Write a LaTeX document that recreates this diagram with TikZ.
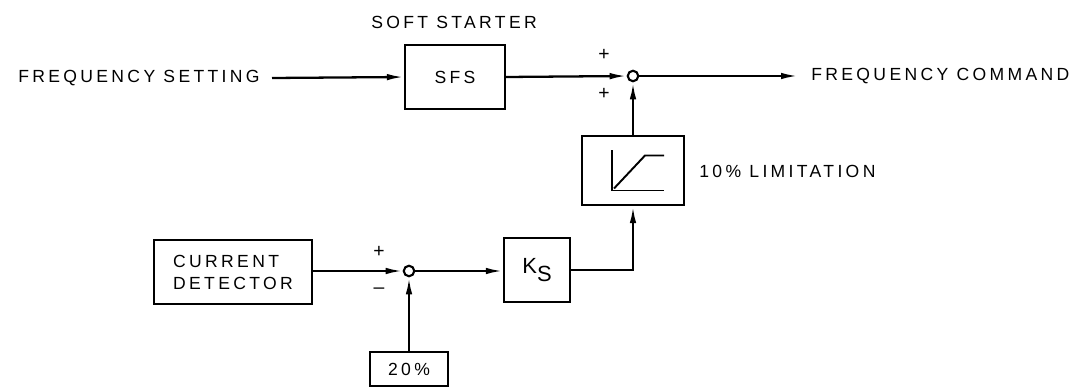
\documentclass[tikz,border=0pt]{standalone}
\usepackage{fontspec}
\setmainfont{Liberation Sans}[LetterSpace=19]
\newfontfamily\plainsans{Liberation Sans}
\usetikzlibrary{arrows.meta,positioning}
\newcommand{\lblfont}{\fontsize{10pt}{12.5pt}\selectfont}
\tikzset{
  wire/.style={line width=1.3pt},
  arr/.style={wire,-{Latex[length=3.4mm,width=1.3mm]}},
  blk/.style={draw,line width=1.3pt,inner sep=0pt,font=\lblfont},
  sumj/.style={circle,draw,line width=1.2pt,fill=white,minimum size=0.21cm,inner sep=0pt},
  txt/.style={font=\lblfont,inner sep=0pt},
  sgn/.style={font=\plainsans\fontsize{11pt}{12pt}\selectfont,inner sep=0pt},
}
\begin{document}
\begin{tikzpicture}[x=0.02cm,y=-0.02cm]
\useasboundingbox (0,0) rectangle (1089,388);
% top chain
\node[txt,anchor=east,inner xsep=0.24cm] (fs) at (272,78) {FREQUENCY SETTING};
\node[blk,minimum width=2.0cm,minimum height=1.28cm] (sfs) at (455,77) {SFS};
\node[txt] (soft) at (454,22) {SOFT STARTER};
\node[sumj] (s1) at (633,76) {};
\node[txt,anchor=west,inner xsep=0.26cm] (fc) at (798,76) {FREQUENCY COMMAND};
\node[sgn] (p1) at (604,55) {+};
\node[sgn] (p2) at (604,94) {+};
% limitation
\node[blk,minimum width=2.04cm,minimum height=1.38cm] (lim) at (633,170.5) {};
\node[txt,anchor=west] (limt) at (699,171) {10\% LIMITATION};
\begin{scope}[shift={(lim.center)}]
  \draw[line width=1.1pt] (-21,-20) -- (-21,20) -- (31,20);
  \draw[line width=1.1pt] (-19,18) -- (12,-15) -- (31,-15);
\end{scope}
% bottom chain
\node[blk,minimum width=3.16cm,minimum height=1.28cm,align=left] (cd) at (233,272) {CURRENT\\DETECTOR};
\node[sumj] (s2) at (409,271) {};
\node[sgn] (p3) at (379,252) {+};
\node[sgn] (m3) at (379,291) {\textendash};
\node[blk,minimum width=1.32cm,minimum height=1.28cm,font=\plainsans\fontsize{12.5pt}{14pt}\selectfont] (ks) at (537,270) {K\raisebox{-0.75ex}{S}};
\node[blk,minimum width=1.56cm,minimum height=0.68cm] (pct) at (409,369) {20\%};
% connectors
\draw[arr] (fs.east) -- (sfs.west);
\draw[arr] (sfs.east) -- (s1.west);
\draw[arr] (s1.east) -- (fc.west);
\draw[arr] (lim.north) -- (s1.south);
\draw[arr] (cd.east |- s2) -- (s2.west);
\draw[arr] (s2.east) -- (ks.west |- s2);
\draw[arr] (pct.north) -- (s2.south);
\draw[arr] (ks.east) -| (lim.south);
\end{tikzpicture}
\end{document}
